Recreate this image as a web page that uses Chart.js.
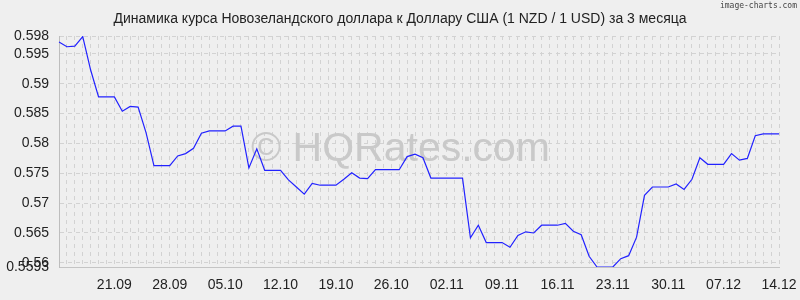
<!DOCTYPE html>
<html>
<head>
<meta charset="utf-8">
<script src="https://cdn.jsdelivr.net/npm/chart.js@4/dist/chart.umd.min.js"></script>
<style>
  html, body { margin: 0; padding: 0; background: #efefef; }
  canvas { display: block; }
</style>
</head>
<body>
<canvas id="chart" width="800" height="300"></canvas>
<script>
const dates = [
    '14.09','15.09','16.09','17.09','18.09','19.09','20.09','21.09','22.09','23.09','24.09','25.09','26.09','27.09','28.09','29.09','30.09',
    '01.10','02.10','03.10','04.10','05.10','06.10','07.10','08.10','09.10','10.10','11.10','12.10','13.10','14.10','15.10','16.10',
    '17.10','18.10','19.10','20.10','21.10','22.10','23.10','24.10','25.10','26.10','27.10','28.10','29.10','30.10','31.10',
    '01.11','02.11','03.11','04.11','05.11','06.11','07.11','08.11','09.11','10.11','11.11','12.11','13.11','14.11','15.11',
    '16.11','17.11','18.11','19.11','20.11','21.11','22.11','23.11','24.11','25.11','26.11','27.11','28.11','29.11','30.11',
    '01.12','02.12','03.12','04.12','05.12','06.12','07.12','08.12','09.12','10.12','11.12','12.12','13.12','14.12'
];

const rates = [
    0.5970, 0.5962, 0.5963, 0.5979, 0.5923, 0.5878, 0.5878, 0.5878, 0.5854, 0.5862,
    0.5861, 0.5818, 0.5763, 0.5763, 0.5763, 0.5779, 0.5783, 0.5792, 0.5817, 0.5821,
    0.5821, 0.5821, 0.5829, 0.5829, 0.5759, 0.5791, 0.5755, 0.5755, 0.5755, 0.5739,
    0.5727, 0.5715, 0.5733, 0.5730, 0.5730, 0.5730, 0.5740, 0.5751, 0.5742, 0.5741,
    0.5756, 0.5756, 0.5756, 0.5756, 0.5778, 0.5782, 0.5776, 0.5742, 0.5742, 0.5742,
    0.5742, 0.5742, 0.5642, 0.5663, 0.5634, 0.5634, 0.5634, 0.5626, 0.5646, 0.5652,
    0.5650, 0.5663, 0.5663, 0.5663, 0.5666, 0.5653, 0.5647, 0.5611, 0.5593, 0.5593,
    0.5593, 0.5607, 0.5612, 0.5643, 0.5713, 0.5727, 0.5727, 0.5727, 0.5732, 0.5723,
    0.5740, 0.5776, 0.5765, 0.5765, 0.5765, 0.5783, 0.5772, 0.5775, 0.5813, 0.5816,
    0.5816, 0.5816
];

const xTickLabels = ['21.09','28.09','05.10','12.10','19.10','26.10','02.11','09.11','16.11','23.11','30.11','07.12','14.12'];
const yTicks = [0.598, 0.595, 0.59, 0.585, 0.58, 0.575, 0.57, 0.565, 0.56, 0.5593];
const yTickLabels = ['0.598','0.595','0.59','0.585','0.58','0.575','0.57','0.565','0.56','0.5593'];

const titleText = 'Динамика курса Новозеландского доллара к Доллару США (1 NZD / 1 USD) за 3 месяца';

// background, title, watermark and brand text
const decorPlugin = {
    id: 'decor',
    beforeDraw(chart) {
        const { ctx, width, height } = chart;
        ctx.save();
        ctx.fillStyle = '#efefef';
        ctx.fillRect(0, 0, width, height);
        ctx.fillStyle = '#222';
        ctx.font = '14px "Liberation Sans", Arial, sans-serif';
        ctx.textAlign = 'center';
        ctx.textBaseline = 'middle';
        ctx.fillText(titleText, 400, 19);
        ctx.fillStyle = '#444';
        ctx.font = '8px "DejaVu Sans Mono", monospace';
        ctx.textAlign = 'right';
        ctx.textBaseline = 'top';
        ctx.fillText('image-charts.com', 797, 2);
        ctx.restore();
    },
    beforeDatasetsDraw(chart) {
        const { ctx } = chart;
        ctx.save();
        ctx.fillStyle = '#c9c9c9';
        ctx.font = '41px "Liberation Sans", Arial, sans-serif';
        ctx.textAlign = 'center';
        ctx.textBaseline = 'alphabetic';
        ctx.fillText('© HQRates.com', 400.5, 160.5);
        ctx.restore();
    }
};

new Chart(document.getElementById('chart').getContext('2d'), {
    type: 'line',
    data: {
        labels: dates,
        datasets: [{
            data: rates,
            borderColor: '#2222ff',
            borderWidth: 1.2,
            pointRadius: 0,
            tension: 0,
            fill: false
        }]
    },
    options: {
        responsive: false,
        animation: false,
        layout: { padding: { left: 0, right: 21, top: 36, bottom: 0 } },
        plugins: {
            legend: { display: false },
            tooltip: { enabled: false },
            title: { display: false }
        },
        scales: {
            x: {
                offset: false,
                afterFit(scale) {
                    scale.height = 33;
                    scale.paddingLeft = 0;
                    scale.paddingRight = 0;
                },
                grid: { color: '#d2d2d2', lineWidth: 1, drawTicks: false },
                border: { display: true, color: '#c4c4c4', dash: [4, 4] },
                ticks: {
                    autoSkip: false,
                    maxRotation: 0,
                    minRotation: 0,
                    padding: 10,
                    color: '#222',
                    font: { family: '"Liberation Sans", Arial, sans-serif', size: 14 },
                    callback(val, idx) {
                        return xTickLabels.includes(dates[idx]) ? dates[idx] : '';
                    }
                }
            },
            y: {
                min: 0.5593,
                max: 0.598,
                afterFit(scale) {
                    scale.width = 59;
                    scale.paddingTop = 0;
                    scale.paddingBottom = 0;
                },
                afterBuildTicks(scale) {
                    scale.ticks = yTicks.map(v => ({ value: v }));
                },
                grid: { color: '#d2d2d2', lineWidth: 1, drawTicks: false },
                border: { display: true, color: '#bdbdbd', dash: [4, 4] },
                ticks: {
                    autoSkip: false,
                    padding: 10,
                    color: '#222',
                    font: { family: '"Liberation Sans", Arial, sans-serif', size: 14 },
                    callback(val) {
                        const i = yTicks.indexOf(val);
                        return i >= 0 ? yTickLabels[i] : '';
                    }
                }
            }
        }
    },
    plugins: [decorPlugin]
});
</script>
</body>
</html>
